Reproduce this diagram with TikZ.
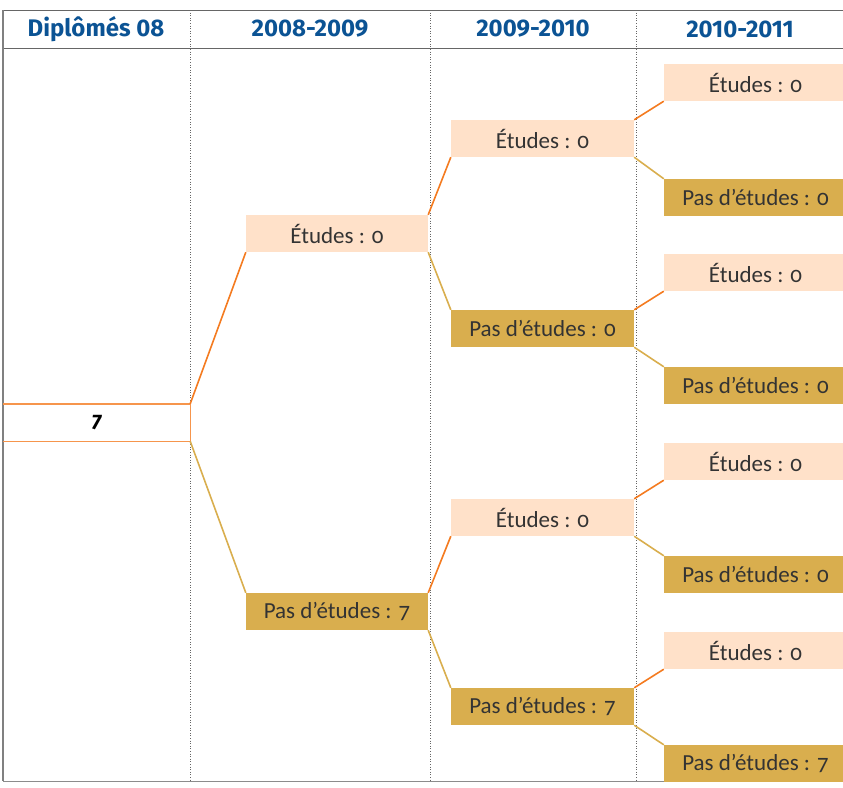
\documentclass[tikz,border=0pt]{standalone}
\usepackage{fontspec}
\setmainfont{Carlito}[Numbers=OldStyle]
\newfontfamily\headfont{Fira Sans}
\definecolor{peach}{HTML}{FFE1C9}
\definecolor{gold}{HTML}{D9AE4E}
\definecolor{lineor}{HTML}{F47B20}
\definecolor{headblue}{HTML}{0B5394}
\definecolor{txt}{HTML}{333333}
\begin{document}
\begin{tikzpicture}
[x=1pt,y=-1pt,
every node/.style={inner sep=0pt,text=txt,font=\fontsize{23}{26}\selectfont},
etudes/.style={fill=peach,minimum height=37pt,minimum width=183pt},
pas/.style={fill=gold,minimum height=37pt,minimum width=183pt},
head/.style={text=headblue,font=\headfont\bfseries\fontsize{24}{28}\selectfont},
link/.style={line width=1.6pt}]
\useasboundingbox (0,0) rectangle (843,787);
% frame and columns
\draw[gray!80!black,line width=0.8pt] (3,10) -- (843,10);
\draw[gray!80!black,line width=0.8pt] (3,48) -- (843,48);
\draw[gray!90,line width=1pt] (3,781) -- (843,781);
\draw[gray,line width=1.6pt] (3,10) -- (3,781);
\foreach \x in {190,430,636}
\draw[gray!80!black,dotted,line width=0.6pt] (\x,10) -- (\x,781);
% headers
\node[head] (h0) at (96,29) {Diplômés 08};
\node[head] (h1) at (310,29) {2008-2009};
\node[head] (h2) at (533,29) {2009-2010};
\node[head] (h3) at (740,29) {2010-2011};
% root
\node[minimum width=187pt,minimum height=37pt,text=black] (root) at (96.5,422.5) {\raisebox{-2pt}{\fontsize{21}{24}\selectfont\headfont\bfseries\itshape 7}};
\draw[lineor!80,line width=1.4pt] (root.north west) -- (root.north east) -- (root.south east) -- (root.south west);
% 2008-2009
\node[etudes,minimum width=182pt] (e1) at (337,233.5) {Études : 0};
\node[pas,minimum width=182pt] (p1) at (337,611.5) {Pas d'études : 7};
% 2009-2010
\node[etudes] (e2a) at (542.5,138.5) {Études : 0};
\node[pas] (p2a) at (542.5,328.5) {Pas d'études : 0};
\node[etudes] (e2b) at (542.5,517.5) {Études : 0};
\node[pas] (p2b) at (542.5,706.5) {Pas d'études : 7};
% 2010-2011
\node[etudes] (e3a) at (755.5,82.5) {Études : 0};
\node[pas] (p3a) at (755.5,197.5) {Pas d'études : 0};
\node[etudes] (e3b) at (755.5,272.5) {Études : 0};
\node[pas] (p3b) at (755.5,385.5) {Pas d'études : 0};
\node[etudes] (e3c) at (755.5,461.5) {Études : 0};
\node[pas] (p3c) at (755.5,574.5) {Pas d'études : 0};
\node[etudes] (e3d) at (755.5,650.5) {Études : 0};
\node[pas] (p3d) at (755.5,763.5) {Pas d'études : 7};
\foreach \from/\to in {root/e1,e1/e2a,p1/e2b,e2a/e3a,p2a/e3b,e2b/e3c,p2b/e3d}
\draw[link,lineor] (\from.north east) -- (\to.south west);
\foreach \from/\to in {root/p1,e1/p2a,p1/p2b,e2a/p3a,p2a/p3b,e2b/p3c,p2b/p3d}
\draw[link,gold] (\from.south east) -- (\to.north west);
\end{tikzpicture}
\end{document}
